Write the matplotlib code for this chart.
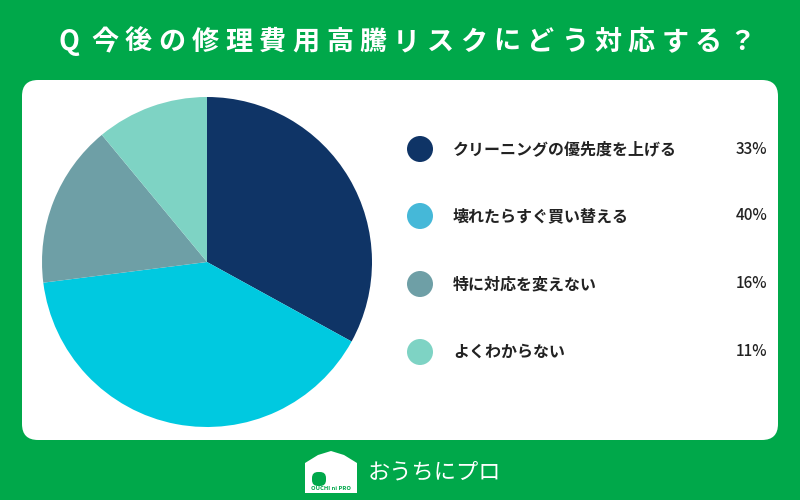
import matplotlib
matplotlib.use('Agg')
from matplotlib import pyplot as plt
from matplotlib.patches import FancyBboxPatch, Polygon, Circle

plt.rcParams['font.family'] = ['Noto Sans CJK JP', 'DejaVu Sans']

title = 'Q 今後の修理費用高騰リスクにどう対応する？'
labels = ['クリーニングの優先度を上げる', '壊れたらすぐ買い替える', '特に対応を変えない', 'よくわからない']
values = [33, 40, 16, 11]
pie_colors = ['#0f3466', '#00c9e0', '#6e9fa6', '#7ed3c4']
dot_colors = ['#0f3466', '#45b8d8', '#6e9fa6', '#7ed3c4']

GREEN = '#00a84a'

fig = plt.figure(figsize=(8, 5), dpi=100, facecolor=GREEN)
ax = fig.add_axes([0, 0, 1, 1])
ax.set_xlim(0, 800)
ax.set_ylim(0, 500)
ax.axis('off')


def y(px):
    # pixel rows from the top -> data y
    return 500 - px


# title, drawn char by char to get the wide letter spacing
renderer = fig.canvas.get_renderer()
x = 59
for ch in title:
    t = ax.text(x, y(42), ch, color='white', fontsize=19.5, fontweight='bold',
                ha='left', va='center')
    w = t.get_window_extent(renderer).width
    if ch == ' ':
        x += 5
        continue
    x += w + 6.4

# white card
card = FancyBboxPatch((22, y(440)), 756, 360,
                      boxstyle='round,pad=0,rounding_size=16',
                      facecolor='white', edgecolor='none')
ax.add_patch(card)

# pie
ax.pie(values, colors=pie_colors, startangle=90, counterclock=False,
       center=(207, y(262)), radius=165, frame=True,
       wedgeprops={'linewidth': 0})
ax.set_xlim(0, 800)
ax.set_ylim(0, 500)
ax.axis('off')

# legend
rows = [149, 216, 284, 352]
for lab, val, col, r in zip(labels, values, dot_colors, rows):
    ax.add_patch(Circle((420, y(r)), 13, facecolor=col, edgecolor='none'))
    ax.text(453, y(r), lab, fontsize=11.5, fontweight='bold', color='#222222',
            ha='left', va='center')
    ax.text(767, y(r), f'{val}%', fontsize=11, fontweight='medium',
            color='#222222', ha='right', va='center')

# footer logo
house = Polygon([(305, y(493)), (305, y(463)), (318, y(455)), (331, y(451)),
                 (344, y(455)), (357, y(463)), (357, y(493))],
                closed=True, facecolor='white', edgecolor='none')
ax.add_patch(house)
door = FancyBboxPatch((312, y(486)), 14, 14,
                      boxstyle='round,pad=0,rounding_size=6',
                      facecolor=GREEN, edgecolor='none')
ax.add_patch(door)
ax.text(331, y(489), 'OUCHI ni PRO', fontsize=4.2, color=GREEN, ha='center',
        va='center', fontweight='bold')
ax.text(368, y(472), 'おうちにプロ', fontsize=16, color='white', ha='left',
        va='center')

fig.savefig('out.png', dpi=100, facecolor=GREEN)
